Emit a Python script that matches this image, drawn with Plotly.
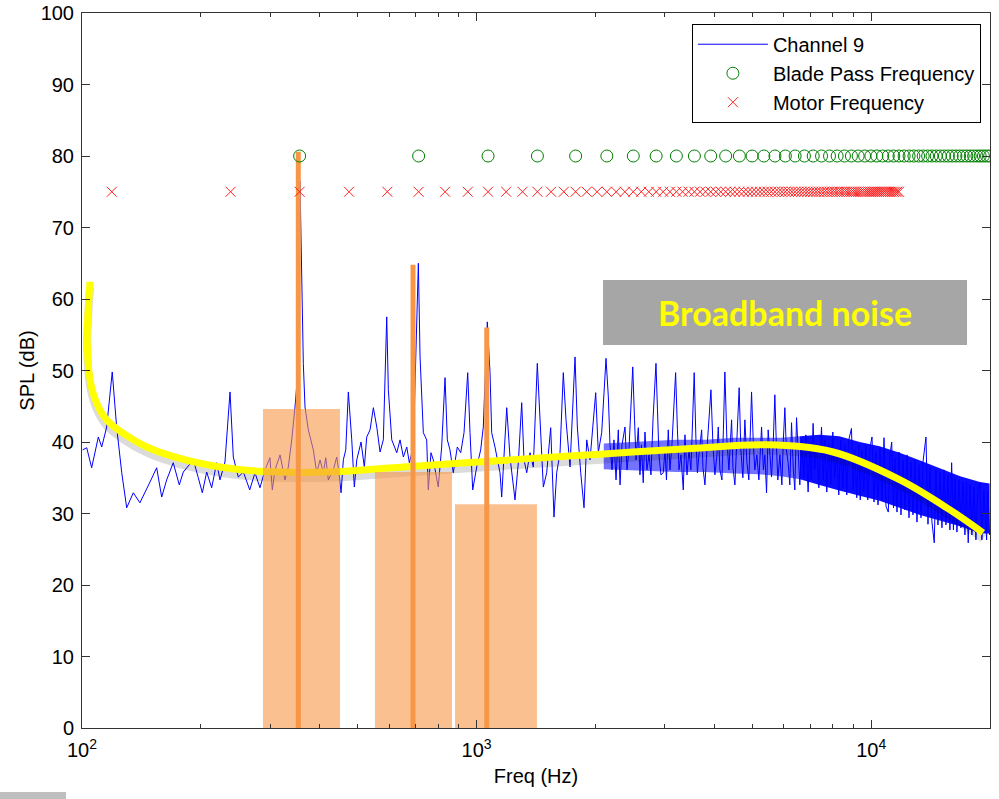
import plotly.graph_objects as go

# ---------------- data ----------------
# Channel 9 spectrum, low-frequency part (Hz, dB)
ch9_freq_low = [100.4, 102.8, 105.8, 110, 112.2, 115.5, 119.3, 122.4, 126.1, 129.8,
                134.9, 140.2, 148.7, 154.6, 159.2, 163.9, 170.3, 176.4, 180.6, 191.5,
                197.1, 201.8, 207, 213.1, 219.5, 223.7, 230.3, 237.2, 241.8, 248.9,
                256.4, 266.1, 274.4, 282.5, 290.9, 299.4, 303.6, 308.4, 317.6, 326.9,
                333.3, 340, 346.6, 352.1, 356.8, 360.4, 363.8, 367.4, 374.6, 385.7,
                393.4, 401.1, 408.9, 414.7, 421, 433.4, 442.1, 448.1, 453.4, 459.5,
                466, 473.1, 482.6, 489.9, 496.9, 509.5, 519.4, 526.7, 537, 547.5,
                558.5, 569.3, 580.3, 591.9, 597.5, 609.5, 627.6, 639.7, 652.2, 665.3,
                675.4, 691.3, 711.8, 718.9, 732.8, 747.3, 754.4, 766.3, 776.7, 799.6,
                815.6, 831.8, 843, 856.1, 872.8, 893.5, 911.4, 929.2, 949.4, 962.3,
                977.5, 1000.5, 1024.2, 1039.9, 1064.4, 1081.4, 1092.1, 1113.2, 1146.3, 1157.7,
                1180.3, 1192.1, 1215.1, 1251.1, 1275.6, 1301.1, 1318.6, 1339.7, 1365.6, 1392.2,
                1425, 1447.8, 1476.1, 1505.3, 1540.9, 1570.7, 1595.8, 1627, 1658.4, 1685,
                1724.7, 1776, 1799.9, 1835.9, 1871.7, 1901.3, 1938.4, 2003.6, 2034.3, 2075,
                2128]
ch9_db_low = [38.9, 39.2, 36.4, 40.7, 39.3, 42.1, 49.8, 42.1, 35.7, 30.8,
              32.9, 31.5, 34.4, 36.4, 32.3, 34.7, 37.1, 34.0, 35.8, 37.5,
              35.0, 32.9, 35.8, 33.6, 37.1, 34.7, 37.2, 47.0, 37.9, 35.1,
              35.8, 33.3, 35.7, 33.6, 36.1, 37.8, 33.3, 36.1, 38.2, 34.7,
              36.5, 40.3, 44.9, 49.7, 76.5, 64.5, 51.0, 44.9, 41.7, 38.9,
              35.7, 37.5, 35.7, 37.8, 34.7, 36.1, 37.9, 35.7, 32.9, 37.5,
              38.9, 47.0, 40.3, 33.7, 37.5, 40.0, 36.5, 40.7, 41.7, 44.8,
              42.1, 38.6, 40.3, 57.5, 47.3, 40.3, 38.5, 40.3, 37.9, 39.3,
              37.1, 39.3, 65.0, 51.9, 41.3, 40.3, 33.3, 38.5, 37.5, 33.7,
              39.3, 49.0, 40.3, 38.9, 35.7, 39.3, 38.5, 41.3, 49.7, 41.3,
              33.3, 36.5, 38.9, 42.1, 56.8, 49.7, 41.3, 39.3, 35.7, 32.3,
              41.3, 44.8, 37.9, 31.9, 37.1, 45.5, 37.5, 35.7, 38.5, 36.5,
              51.0, 43.1, 33.7, 35.7, 42.0, 29.5, 35.7, 38.5, 49.7, 43.1,
              36.5, 51.9, 42.1, 35.7, 30.8, 40.3, 37.5, 46.9, 38.5, 41.3,
              51.7]

# Channel 9 spectrum, mid part (Hz, dB)
ch9_freq_mid = [2157, 2178, 2204, 2229, 2256, 2286, 2309, 2336, 2377, 2405,
                2433, 2462, 2487, 2513, 2535, 2569, 2594, 2617, 2644, 2671,
                2702, 2734, 2766, 2799, 2823, 2848, 2873, 2898, 2932, 2972,
                3001, 3028, 3060, 3090, 3126, 3163, 3194, 3228, 3257, 3295,
                3340, 3373, 3413, 3453, 3492, 3527, 3560, 3596, 3627, 3659,
                3718, 3746, 3790, 3834, 3879, 3925, 3971, 4017, 4065, 4096,
                4136, 4185, 4221, 4258, 4308, 4359, 4428, 4461, 4514, 4567,
                4628, 4674, 4729, 4785, 4841, 4897, 4940, 4975, 5027, 5072,
                5131, 5192, 5274, 5330, 5377, 5430, 5481, 5535, 5590, 5649,
                5699, 5749, 5800, 5868, 5937, 5989, 6042, 6095, 6159, 6220,
                6282, 6348, 6404, 6468, 6536]
ch9_db_mid = [46.3, 39.6, 36.1, 40.3, 34.7, 41.7, 34.0, 39.6, 42.1, 36.1,
              38.9, 45.9, 50.5, 43.1, 37.5, 42.0, 35.4, 39.6, 34.3, 41.4,
              36.1, 38.2, 35.4, 43.1, 47.3, 51.0, 44.5, 38.2, 35.4, 35.7,
              38.9, 34.7, 41.7, 36.1, 39.6, 44.5, 49.7, 41.7, 36.1, 38.2,
              33.3, 41.0, 35.4, 38.9, 36.1, 43.1, 49.7, 40.3, 35.7, 38.2,
              41.7, 36.4, 34.0, 38.9, 43.1, 47.3, 39.6, 35.4, 38.2, 42.1,
              36.1, 34.7, 41.7, 49.8, 40.3, 36.1, 43.1, 36.5, 34.0, 40.3,
              47.6, 38.9, 35.0, 43.1, 37.2, 34.7, 41.7, 47.0, 39.6, 36.1,
              38.2, 34.7, 42.1, 36.1, 38.2, 32.9, 41.7, 37.5, 35.1, 40.3,
              46.6, 39.6, 34.7, 38.2, 34.0, 40.3, 44.8, 38.9, 37.1, 34.0,
              42.7, 36.1, 33.3, 43.4, 36.8]

# Channel 9 spectrum, high part (Hz, dB)
ch9_freq_high = [6593, 6670, 6749, 6828, 6920, 6989, 7050, 7125, 7196, 7280,
                 7366, 7482, 7561, 7627, 7717, 7807, 7899, 7992, 8085, 8180,
                 8276, 8374, 8472, 8571, 8672, 8774, 8912, 9006, 9085, 9192,
                 9300, 9381, 9464, 9575, 9687, 9801, 9930, 10046, 10164, 10284,
                 10405, 10527, 10650, 10776, 10902, 11049, 11158, 11269, 11388, 11488,
                 11623, 11759, 11897, 12037, 12178, 12321, 12466, 12611, 12759, 12909,
                 13061, 13214, 13369, 13526, 13765, 13926, 14089, 14254, 14447, 14591,
                 14762, 14934, 15109, 15287, 15466, 15648, 15831, 15989, 16157, 16300,
                 16491, 16684, 16879, 17077, 17278, 17430, 17613, 17788, 17997, 18208,
                 18422, 18638, 18856, 19077, 19301, 19608, 19757, 19950]
ch9_db_high = [34.0, 40.3, 35.0, 41.0, 33.0, 39.6, 34.7, 42.6, 36.1, 39.6,
               33.6, 42.1, 34.7, 40.3, 33.0, 39.6, 34.0, 41.4, 35.0, 38.9,
               32.6, 40.3, 33.6, 39.6, 32.6, 40.3, 41.9, 33.3, 38.9, 32.2,
               39.6, 31.9, 38.9, 33.0, 39.6, 31.9, 39.2, 40.7, 31.6, 38.6,
               31.2, 39.2, 31.9, 40.6, 31.0, 30.2, 38.2, 40.0, 30.8, 37.8,
               30.2, 38.6, 29.8, 37.5, 30.5, 38.2, 29.4, 37.2, 29.8, 37.5,
               28.8, 36.8, 29.4, 37.2, 40.7, 28.5, 36.4, 28.8, 25.9, 36.1,
               28.4, 35.8, 28.0, 36.1, 28.4, 35.4, 27.7, 37.1, 27.7, 35.0,
               27.4, 34.7, 28.0, 34.4, 27.0, 34.4, 25.9, 34.0, 27.0, 33.7,
               26.3, 33.6, 34.3, 26.3, 33.3, 26.3, 33.3, 27.0]

# Dense core of the spectrum (upper / lower edge of the solid blue band)
core_mid_freq = [2100, 2600, 3200, 3800, 4500, 5200, 5900, 6600]
core_mid_upper = [39.8, 40.0, 40.3, 40.3, 40.6, 40.6, 40.6, 40.8]
core_mid_lower = [36.2, 36.0, 35.8, 35.8, 35.6, 35.5, 35.2, 34.8]
core_high_freq = [6600, 7400, 8300, 9350, 10500, 11800, 13300, 14900, 16800, 18850, 19950]
core_high_upper = [40.8, 41.0, 40.8, 40.0, 39.4, 38.5, 37.4, 36.3, 35.2, 34.4, 34.2]
core_high_lower = [34.8, 34.0, 33.2, 32.5, 31.8, 30.8, 29.8, 29.0, 28.2, 27.2, 27.2]

# Broadband-noise trend curve (yellow)
trend_freq = [104.8, 103.1, 104.8, 109, 115.5, 127.2, 145.9, 177, 223.7, 282.5,
              417.8, 614, 1215, 2055, 3500, 5443, 8003, 11830, 15840, 19200]
trend_db = [62.4, 54.3, 48.7, 45.4, 43.1, 41.2, 39.3, 37.7, 36.5, 35.9,
            35.8, 36.4, 37.5, 38.3, 39.1, 39.6, 38.6, 34.7, 30.5, 27.3]

# Highlighted frequency bands (lower Hz, upper Hz, level dB)
band_low_hz = [287.5, 552.6, 881.6]
band_high_hz = [450.6, 866.0, 1422.0]
band_level_db = [44.6, 35.8, 31.3]

# Highlighted tones (Hz, dB)
tone_freq = [353.3, 690.0, 1061.0]
tone_db = [80.6, 64.8, 56.0]

# Blade pass frequency harmonics (Hz) at 80 dB
bpf_freq = [356, 713, 1069, 1426, 1782, 2138, 2495, 2851, 3208, 3564,
            3920, 4277, 4633, 4990, 5346, 5702, 6059, 6415, 6772, 7128,
            7484, 7841, 8197, 8554, 8910, 9266, 9623, 9979, 10336, 10692,
            11048, 11405, 11761, 12118, 12474, 12830, 13187, 13543, 13900, 14256,
            14612, 14969, 15325, 15682, 16038, 16394, 16751, 17107, 17464, 17820,
            18176, 18533, 18889, 19246, 19602, 19958]
bpf_level = 80

# Motor frequency harmonics (Hz) at 75 dB
motor_freq = [119, 238, 356, 475, 594, 713, 832, 950, 1069, 1188,
              1307, 1426, 1544, 1663, 1782, 1901, 2020, 2138, 2257, 2376,
              2495, 2614, 2732, 2851, 2970, 3089, 3208, 3326, 3445, 3564,
              3683, 3802, 3920, 4039, 4158, 4277, 4396, 4514, 4633, 4752,
              4871, 4990, 5108, 5227, 5346, 5465, 5584, 5702, 5821, 5940,
              6059, 6178, 6296, 6415, 6534, 6653, 6772, 6890, 7009, 7128,
              7247, 7366, 7484, 7603, 7722, 7841, 7960, 8078, 8197, 8316,
              8435, 8554, 8672, 8791, 8910, 9029, 9148, 9266, 9385, 9504,
              9623, 9742, 9860, 9979, 10098, 10217, 10336, 10454, 10573, 10692,
              10811, 10930, 11048, 11167, 11286, 11405, 11524, 11642, 11761]
motor_level = 75

x_tick_vals = [100, 1000, 10000]
x_tick_text = ["10<sup>2</sup>", "10<sup>3</sup>", "10<sup>4</sup>"]
x_minor_vals = [200, 300, 400, 500, 600, 700, 800, 900,
                2000, 3000, 4000, 5000, 6000, 7000, 8000, 9000]
y_tick_vals = [0, 10, 20, 30, 40, 50, 60, 70, 80, 90, 100]

# ---------------- figure ----------------
BLUE = "#0000FF"
ORANGE = "#F79646"
AXIS = "#333333"
FONT = "Liberation Sans, Arial, sans-serif"

fig = go.Figure()

# solid core of the dense spectrum
fig.add_trace(go.Scatter(
    x=core_mid_freq + core_mid_freq[::-1], y=core_mid_upper + core_mid_lower[::-1],
    fill="toself", fillcolor="rgba(0,0,255,0.55)", line=dict(width=0),
    mode="lines", showlegend=False, hoverinfo="skip"))
fig.add_trace(go.Scatter(
    x=core_high_freq + core_high_freq[::-1], y=core_high_upper + core_high_lower[::-1],
    fill="toself", fillcolor="rgba(0,0,255,0.95)", line=dict(width=0),
    mode="lines", showlegend=False, hoverinfo="skip"))

# Channel 9 spectrum line
fig.add_trace(go.Scatter(
    x=ch9_freq_low + ch9_freq_mid + ch9_freq_high,
    y=ch9_db_low + ch9_db_mid + ch9_db_high,
    mode="lines", name="Channel 9", line=dict(color=BLUE, width=1)))

# yellow trend with a soft shadow below it
shadow_shift_db = 0.8
fig.add_trace(go.Scatter(
    x=trend_freq, y=[v - shadow_shift_db for v in trend_db], mode="lines",
    line=dict(color="rgba(0,0,0,0.14)", width=8, shape="spline"),
    showlegend=False, hoverinfo="skip"))
fig.add_trace(go.Scatter(
    x=trend_freq, y=trend_db, mode="lines",
    line=dict(color="#FFFF00", width=7, shape="spline"),
    showlegend=False, hoverinfo="skip"))

# highlighted bands
for lo, hi, lvl in zip(band_low_hz, band_high_hz, band_level_db):
    fig.add_trace(go.Scatter(
        x=[lo, lo, hi, hi, lo], y=[0, lvl, lvl, 0, 0], mode="lines",
        fill="toself", fillcolor="rgba(247,150,70,0.6)", line=dict(width=0),
        showlegend=False, hoverinfo="skip"))

# highlighted tones
tx, ty = [], []
for f, lvl in zip(tone_freq, tone_db):
    tx += [f, f, None]
    ty += [0, lvl, None]
fig.add_trace(go.Scatter(x=tx, y=ty, mode="lines",
                         line=dict(color=ORANGE, width=5),
                         showlegend=False, hoverinfo="skip"))

# harmonic markers
fig.add_trace(go.Scatter(
    x=bpf_freq, y=[bpf_level] * len(bpf_freq), mode="markers",
    name="Blade Pass Frequency",
    marker=dict(symbol="circle-open", size=12, color="#008000", line=dict(width=1))))
fig.add_trace(go.Scatter(
    x=motor_freq, y=[motor_level] * len(motor_freq), mode="markers",
    name="Motor Frequency",
    marker=dict(symbol="x-thin-open", size=10, color="#FF2020", line=dict(width=1, color="#FF2020"))))

# "Broadband noise" label box
fig.add_shape(type="rect", xref="paper", yref="paper",
              x0=0.5738, x1=0.9747, y0=0.5357, y1=0.6266,
              fillcolor="#A6A6A6", line=dict(width=0), layer="above")
fig.add_annotation(xref="paper", yref="paper", x=0.7742, y=0.5811,
                   xanchor="center", yanchor="middle",
                   text="<b>Broadband noise</b>", showarrow=False,
                   font=dict(family="Lato, sans-serif", size=34, color="#FFFF00"))
# small grey strip at the lower-left corner of the slide
fig.add_shape(type="rect", xref="paper", yref="paper",
              x0=-0.0903, x1=-0.0176, y0=-0.0993, y1=-0.0895,
              fillcolor="#BFBFBF", line=dict(width=0), layer="above")

fig.update_layout(
    width=999, height=799,
    margin=dict(l=82, r=9, t=13, b=71, autoexpand=False),
    paper_bgcolor="white", plot_bgcolor="white",
    font=dict(family=FONT, size=20, color="black"),
    legend=dict(x=0.99, y=0.985, xanchor="right", yanchor="top",
                bgcolor="white", bordercolor="black", borderwidth=1,
                font=dict(family=FONT, size=20), itemwidth=70, tracegroupgap=0),
    xaxis=dict(type="log", range=[2, 4.30103],
               tickvals=x_tick_vals, ticktext=x_tick_text,
               ticks="inside", ticklen=8, tickcolor=AXIS, tickwidth=1,
               ticklabelstandoff=4,
               showline=True, linecolor=AXIS, linewidth=1, mirror="ticks",
               showgrid=False, zeroline=False,
               minor=dict(ticks="inside", ticklen=4, tickcolor=AXIS,
                          tickvals=x_minor_vals, showgrid=False),
               title=dict(text="Freq (Hz)", font=dict(size=20), standoff=8)),
    yaxis=dict(range=[0, 100], tickvals=y_tick_vals,
               ticks="inside", ticklen=8, tickcolor=AXIS, tickwidth=1,
               ticklabelstandoff=3,
               showline=True, linecolor=AXIS, linewidth=1, mirror="ticks",
               showgrid=False, zeroline=False,
               title=dict(text="SPL (dB)", font=dict(size=20), standoff=0)),
)

fig.write_html("out.html")
